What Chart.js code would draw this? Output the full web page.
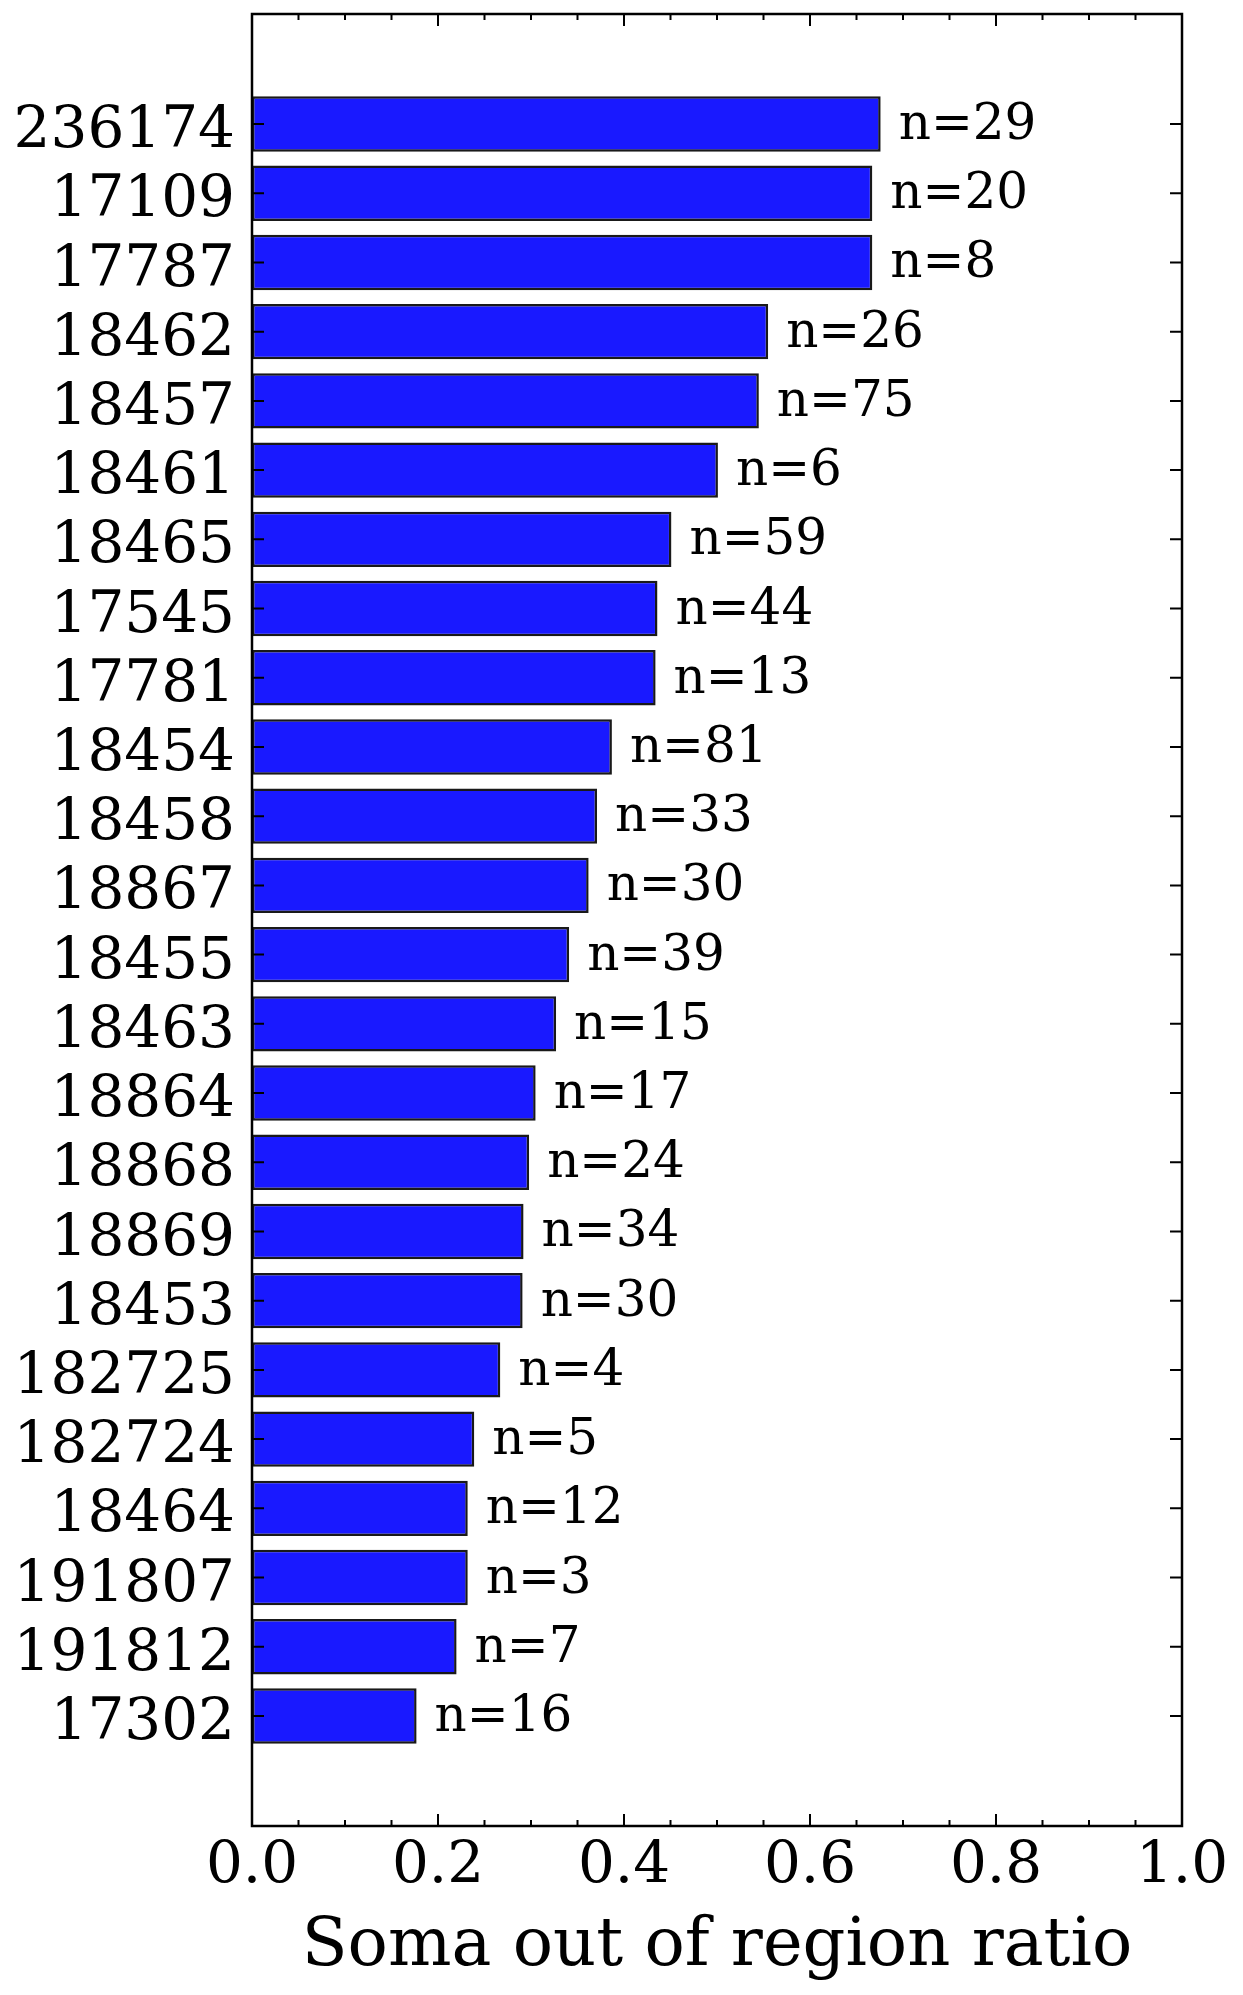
<!DOCTYPE html>
<html>
<head>
<meta charset="utf-8">
<script src="https://cdn.jsdelivr.net/npm/chart.js@4.4.0/dist/chart.umd.min.js"></script>
<style>
html,body{margin:0;padding:0;background:#fff;}
#wrap{width:1243px;height:1995px;position:relative;}
</style>
</head>
<body>
<div id="wrap"><canvas id="c" width="1243" height="1995"></canvas></div>
<script>
// ---- data ----
const categories = ['236174','17109','17787','18462','18457','18461','18465','17545','17781','18454','18458','18867','18455','18463','18864','18868','18869','18453','182725','182724','18464','191807','191812','17302'];
const ratios = [0.676,0.667,0.667,0.555,0.545,0.501,0.451,0.436,0.434,0.387,0.371,0.362,0.341,0.327,0.305,0.298,0.292,0.291,0.267,0.239,0.232,0.232,0.220,0.177];
const counts = [29,20,8,26,75,6,59,44,13,81,33,30,39,15,17,24,34,30,4,5,12,3,7,16];
const xMajorTicks = [0.0,0.2,0.4,0.6,0.8,1.0];
const xMinorTicks = [0.05,0.10,0.15,0.25,0.30,0.35,0.45,0.50,0.55,0.65,0.70,0.75,0.85,0.90,0.95];
const xLabel = 'Soma out of region ratio';

const FONT = 'DejaVu Serif';

const framePlugin = {
  id: 'frame',
  afterDatasetsDraw(chart) {
    const {ctx, chartArea: a, scales: {x, y}} = chart;
    ctx.save();
    // n labels
    const meta = chart.getDatasetMeta(0);
    ctx.fillStyle = '#000';
    ctx.font = '50px "' + FONT + '"';
    ctx.textAlign = 'left';
    ctx.textBaseline = 'middle';
    meta.data.forEach((bar, i) => {
      ctx.fillText('n=' + counts[i], bar.x + 18, bar.y + 2);
    });
    // frame
    ctx.strokeStyle = '#000';
    ctx.lineWidth = 2.5;
    ctx.strokeRect(a.left, a.top, a.right - a.left, a.bottom - a.top);
    // ticks
    ctx.lineWidth = 2;
    ctx.beginPath();
    xMajorTicks.forEach(v => {
      const px = x.getPixelForValue(v);
      ctx.moveTo(px, a.bottom); ctx.lineTo(px, a.bottom - 12);
      ctx.moveTo(px, a.top); ctx.lineTo(px, a.top + 12);
    });
    xMinorTicks.forEach(v => {
      const px = x.getPixelForValue(v);
      ctx.moveTo(px, a.bottom); ctx.lineTo(px, a.bottom - 6);
      ctx.moveTo(px, a.top); ctx.lineTo(px, a.top + 6);
    });
    categories.forEach((c, i) => {
      const py = y.getPixelForValue(i);
      ctx.moveTo(a.left, py); ctx.lineTo(a.left + 12, py);
      ctx.moveTo(a.right, py); ctx.lineTo(a.right - 12, py);
    });
    ctx.stroke();
    ctx.restore();
  }
};

new Chart(document.getElementById('c'), {
  type: 'bar',
  data: {
    datasets: [{
      data: ratios.map((v, i) => ({x: v, y: i})),
      backgroundColor: 'rgba(0,0,255,0.9)',
      borderColor: 'rgba(0,0,0,0.9)',
      borderWidth: 2.5,
      borderSkipped: false,
      barPercentage: 0.8,
      categoryPercentage: 1.0
    }]
  },
  options: {
    indexAxis: 'y',
    responsive: false,
    animation: false,
    devicePixelRatio: 1,
    layout: {padding: {top: 14, right: 61, left: 0, bottom: 0}},
    plugins: {legend: {display: false}, tooltip: {enabled: false}},
    scales: {
      x: {
        type: 'linear', position: 'bottom', min: 0, max: 1, offset: false,
        grid: {display: false, drawTicks: false},
        border: {display: false},
        afterBuildTicks: s => { s.ticks = xMajorTicks.map(v => ({value: v})); },
        ticks: {
          autoSkip: false, padding: 6, color: '#000',
          font: {family: FONT, size: 58},
          callback: v => Number(v).toFixed(1)
        },
        title: {
          display: true, text: xLabel, color: '#000',
          font: {family: FONT, size: 67},
          padding: {top: 0, bottom: 7}
        },
        afterFit: s => { s.height = 169; s.paddingLeft = 0; s.paddingRight = 0; }
      },
      y: {
        type: 'linear', position: 'left', reverse: true, min: -1.59, max: 24.59, offset: false,
        grid: {display: false, drawTicks: false},
        border: {display: false},
        afterBuildTicks: s => { s.ticks = categories.map((c, i) => ({value: i})); },
        ticks: {
          autoSkip: false, padding: 17, labelOffset: 8, color: '#000',
          font: {family: FONT, size: 58},
          callback: v => categories[v]
        },
        afterFit: s => { s.width = 252; s.paddingTop = 0; s.paddingBottom = 0; }
      }
    }
  },
  plugins: [framePlugin]
});
</script>
</body>
</html>
